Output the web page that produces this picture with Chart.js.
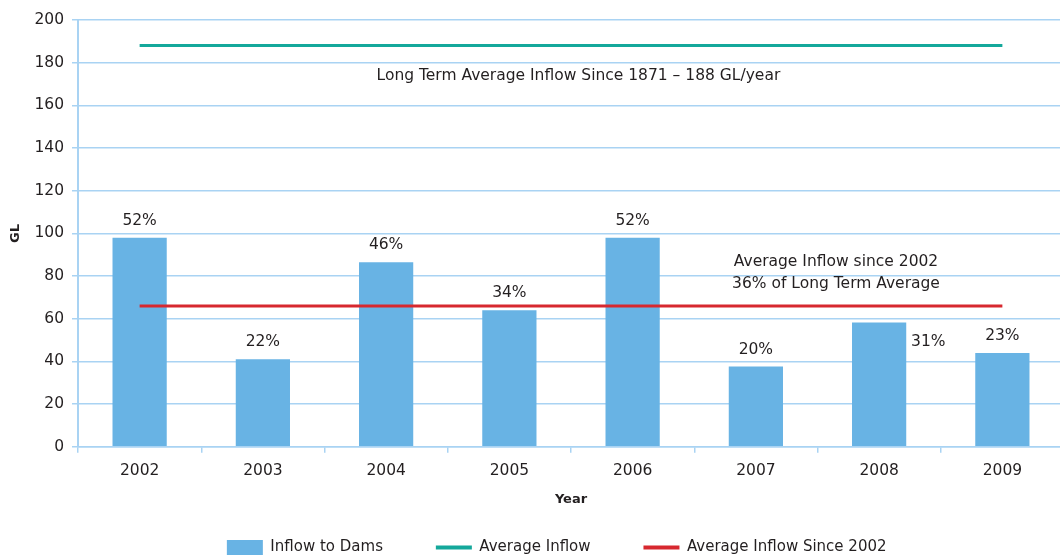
<!DOCTYPE html>
<html>
<head>
<meta charset="utf-8">
<script src="https://cdn.jsdelivr.net/npm/chart.js@4.4.1/dist/chart.umd.min.js"></script>
<style>
    html, body { margin: 0; padding: 0; background: #fff; overflow: hidden; }
    #wrap { position: relative; width: 1070px; height: 575px; }
</style>
</head>
<body>
<div id="wrap"><canvas id="myChart"></canvas></div>
<script>
const years = ["2002", "2003", "2004", "2005", "2006", "2007", "2008", "2009"];
const inflow = [98, 41, 86.5, 64, 98, 37.6, 58.3, 44];
const percentLabels = ["52%", "22%", "46%", "34%", "52%", "20%", "31%", "23%"];
const longTermAvg = [188, 188, 188, 188, 188, 188, 188, 188];
const avgSince2002 = [66, 66, 66, 66, 66, 66, 66, 66];
const yTicks = [0, 20, 40, 60, 80, 100, 120, 140, 160, 180, 200];

const FONT = "'DejaVu Sans', sans-serif";
const TEXT = "#231f20";
const GRID = "#a9d3f3";

// percent labels over bars + the two notes on the chart
const notesPlugin = {
    id: 'notes',
    afterDatasetsDraw(chart) {
        const ctx = chart.ctx;
        const x = chart.scales.x, y = chart.scales.y;
        const meta = chart.getDatasetMeta(0);
        ctx.save();
        ctx.fillStyle = TEXT;
        ctx.font = "15.5px " + FONT;
        ctx.textAlign = "center";
        ctx.textBaseline = "middle";
        meta.data.forEach((bar, i) => {
            if (i === 6) {
                ctx.fillText(percentLabels[i], bar.x + bar.width / 2 + 22, y.getPixelForValue(49));
            } else {
                ctx.fillText(percentLabels[i], bar.x, bar.y - 17);
            }
        });
        ctx.fillText("Long Term Average Inflow Since 1871 \u2013 188 GL/year", x.getPixelForValue(3.56), y.getPixelForValue(174));
        ctx.fillText("Average Inflow since 2002", x.getPixelForValue(5.65), y.getPixelForValue(86.4));
        ctx.fillText("36% of Long Term Average", x.getPixelForValue(5.65), y.getPixelForValue(76.5));
        ctx.restore();
    }
};

// wider gaps between legend items (by dataset index) without growing the legend height
const legendGap = ["         ", "         ", "      "];

const ctx = document.getElementById('myChart').getContext('2d');
const myChart = new Chart(ctx, {
    type: 'bar',
    data: {
        labels: years,
        datasets: [
            {
                label: 'Inflow to Dams',
                data: inflow,
                backgroundColor: '#68b3e4',
                borderWidth: 0,
                barPercentage: 0.44,
                categoryPercentage: 1,
                pointStyle: 'rect',
                order: 3
            },
            {
                type: 'line',
                label: 'Average Inflow',
                data: longTermAvg,
                borderColor: '#14a89b',
                backgroundColor: '#14a89b',
                borderWidth: 3,
                pointRadius: 0,
                pointStyle: 'line',
                order: 1
            },
            {
                type: 'line',
                label: 'Average Inflow Since 2002',
                data: avgSince2002,
                borderColor: '#d7282f',
                backgroundColor: '#d7282f',
                borderWidth: 3,
                pointRadius: 0,
                pointStyle: 'line',
                order: 2
            }
        ]
    },
    options: {
        responsive: true,
        maintainAspectRatio: false,
        animation: false,
        layout: { padding: { top: 20, right: 6, left: 0, bottom: 10 } },
        plugins: {
            tooltip: { enabled: false },
            legend: {
                position: 'bottom',
                fullSize: false,
                labels: {
                    usePointStyle: true,
                    pointStyleWidth: 36,
                    boxHeight: 16,
                    padding: 10,
                    color: TEXT,
                    font: { family: FONT, size: 15 },
                    sort: (a, b) => a.datasetIndex - b.datasetIndex,
                    generateLabels(chart) {
                        const items = Chart.defaults.plugins.legend.labels.generateLabels(chart);
                        items.forEach(it => {
                            if (it.pointStyle === 'line') it.lineWidth = 4;
                            it.text = it.text + legendGap[it.datasetIndex];
                        });
                        return items;
                    }
                }
            }
        },
        scales: {
            x: {
                grid: {
                    drawOnChartArea: false,
                    drawTicks: true,
                    tickLength: 6,
                    color: GRID,
                    lineWidth: 1.5
                },
                border: { color: GRID, width: 1.5 },
                ticks: { color: TEXT, font: { family: FONT, size: 15.5 }, padding: 9 },
                title: {
                    display: true,
                    text: 'Year',
                    color: TEXT,
                    font: { family: FONT, size: 13, weight: 'bold' },
                    padding: { top: 2, bottom: 23 }
                }
            },
            y: {
                min: 0,
                max: 200,
                afterBuildTicks(scale) {
                    scale.ticks = yTicks.map(v => ({ value: v }));
                },
                afterFit(scale) { scale.width = 78; },
                grid: { color: GRID, lineWidth: 1.5, tickLength: 6 },
                border: { color: GRID, width: 2 },
                ticks: { color: TEXT, font: { family: FONT, size: 15.5 }, padding: 8 },
                title: {
                    display: true,
                    text: 'GL',
                    color: TEXT,
                    font: { family: FONT, size: 13, weight: 'bold' },
                    padding: { top: 8, bottom: 0 }
                }
            }
        }
    },
    plugins: [notesPlugin]
});
</script>
</body>
</html>
